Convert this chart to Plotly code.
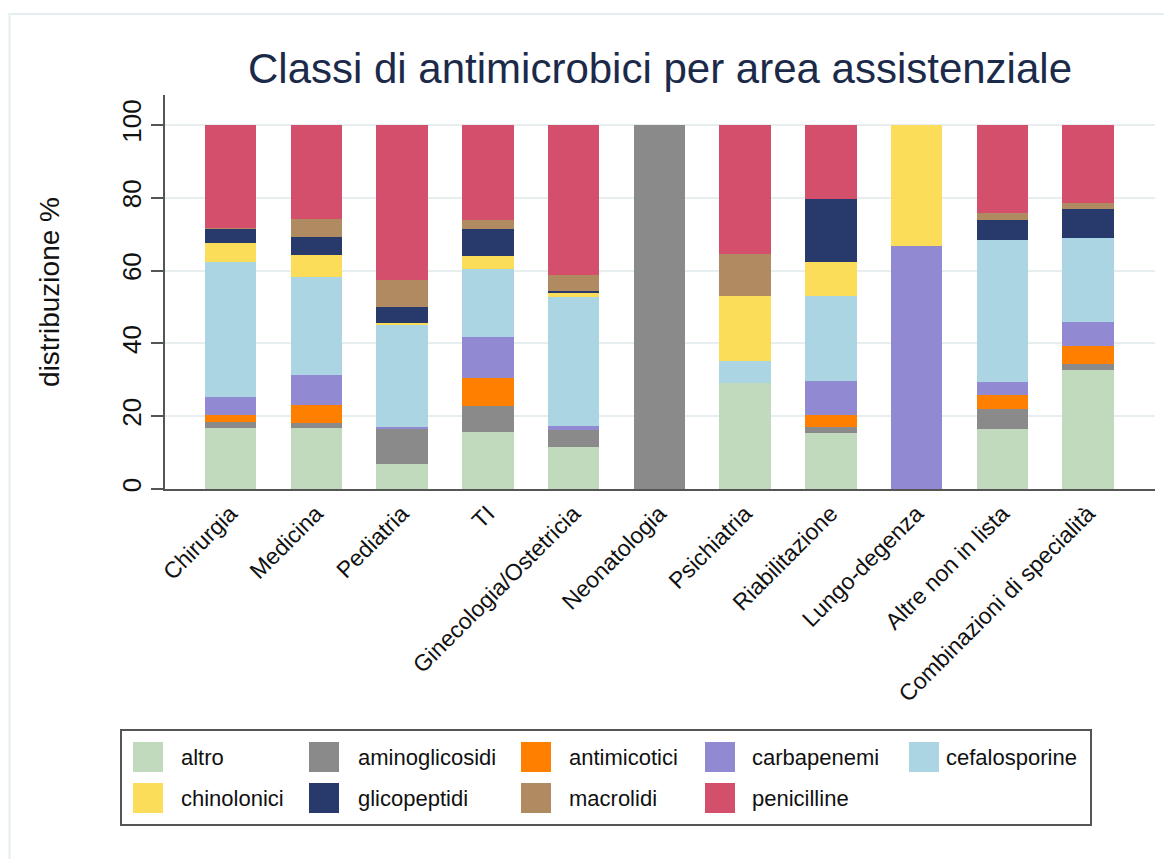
import plotly.graph_objects as go

# ---------------- data ----------------
categories = ["Chirurgia", "Medicina", "Pediatria", "TI", "Ginecologia/Ostetricia",
              "Neonatologia", "Psichiatria", "Riabilitazione", "Lungo-degenza",
              "Altre non in lista", "Combinazioni di specialità"]

series_names = ["altro", "aminoglicosidi", "antimicotici", "carbapenemi", "cefalosporine",
                "chinolonici", "glicopeptidi", "macrolidi", "penicilline"]

altro          = [16.7, 16.7, 7.0, 15.6, 11.5, 0, 29.1, 15.4, 0, 16.5, 32.7]
aminoglicosidi = [1.7, 1.3, 9.7, 7.1, 4.6, 100, 0, 1.6, 0, 5.5, 1.5]
antimicotici   = [2.0, 5.2, 0, 7.9, 0, 0, 0, 3.2, 0, 3.7, 5.0]
carbapenemi    = [5.0, 8.1, 0.3, 11.2, 1.3, 0, 0, 9.4, 66.7, 3.8, 6.6]
cefalosporine  = [37.0, 26.9, 28.1, 18.5, 35.3, 0, 6.0, 23.5, 0, 38.9, 23.0]
chinolonici    = [5.1, 6.1, 0.5, 3.7, 1.3, 0, 17.8, 9.3, 33.3, 0, 0]
glicopeptidi   = [3.9, 5.0, 4.3, 7.3, 0.3, 0, 0, 17.2, 0, 5.5, 8.1]
macrolidi      = [0.3, 4.8, 7.6, 2.5, 4.6, 0, 11.7, 0, 0, 2.0, 1.7]
penicilline    = [28.3, 25.9, 42.5, 26.2, 41.1, 0, 35.4, 20.4, 0, 24.1, 21.4]

series_values = [altro, aminoglicosidi, antimicotici, carbapenemi, cefalosporine,
                 chinolonici, glicopeptidi, macrolidi, penicilline]

colors = ["#c1d9bc", "#8a8a8a", "#ff7f00", "#9189d1", "#abd5e2",
          "#fcdd5a", "#283a6b", "#b08a60", "#d44f6c"]

y_ticks = [0, 20, 40, 60, 80, 100]

# ---------------- figure ----------------
FONT = "Liberation Sans, Arial, sans-serif"
OFF = 8                      # page body margin
W, H = 1164, 851
L, T = 165 - OFF, 95 - OFF
R = W - (1155 - OFF)
B = H - (489 - OFF)
PW, PH = W - L - R, H - T - B


def px_x(px):
    """page pixel x -> paper coordinate"""
    return (px - OFF - L) / PW


def px_y(py):
    """page pixel y -> paper coordinate"""
    return (H - B - (py - OFF)) / PH


fig = go.Figure()
for name, vals, col in zip(series_names, series_values, colors):
    fig.add_trace(go.Bar(
        x=categories, y=vals, name=name,
        marker=dict(color=col, line=dict(width=0)),
        showlegend=False,
        hovertemplate="%{x}<br>" + name + ": %{y}<extra></extra>",
    ))

# manual legend (large swatches like the original)
swatch_left = [133, 309, 521, 705, 909]
text_left = [179, 356, 567, 750, 944]
row_center = [757, 798]
shapes = []
annotations = []
for i, (name, col) in enumerate(zip(series_names, colors)):
    r, c = divmod(i, 5)
    cy = row_center[r]
    shapes.append(dict(type="rect", xref="paper", yref="paper",
                       x0=px_x(swatch_left[c]), x1=px_x(swatch_left[c] + 30),
                       y0=px_y(cy + 15), y1=px_y(cy - 15),
                       fillcolor=col, line=dict(width=0)))
    annotations.append(dict(xref="paper", yref="paper", x=px_x(text_left[c]), y=px_y(cy),
                            text=name, showarrow=False, xanchor="left", yanchor="middle",
                            font=dict(family=FONT, size=22, color="#111111")))
# legend frame
shapes.append(dict(type="rect", xref="paper", yref="paper",
                   x0=px_x(121), x1=px_x(1091), y0=px_y(825), y1=px_y(730),
                   line=dict(color="#555555", width=2), fillcolor="rgba(0,0,0,0)"))
# outer faint frame of the graph region
shapes.append(dict(type="rect", xref="paper", yref="paper",
                   x0=px_x(9.5), x1=px_x(1185), y0=px_y(880), y1=px_y(14),
                   line=dict(color="#e4edef", width=2), fillcolor="rgba(0,0,0,0)",
                   layer="below"))

fig.update_layout(
    width=W, height=H,
    margin=dict(l=L, r=R, t=T, b=B, autoexpand=False),
    barmode="stack",
    bargap=0.40,
    paper_bgcolor="white",
    plot_bgcolor="white",
    font=dict(family=FONT, color="#111111"),
    title=dict(text="Classi di antimicrobici per area assistenziale",
               x=0.5, xref="paper", xanchor="center",
               y=1 - (68 - OFF) / H, yref="container", yanchor="middle",
               font=dict(family=FONT, size=42, color="#1c2a4a")),
    xaxis=dict(
        type="category",
        range=[-0.764, 10.78],
        tickangle=-45,
        tickfont=dict(family=FONT, size=23, color="#111111"),
        showline=True, linecolor="#555555", linewidth=2,
        ticks="", showgrid=False, zeroline=False,
        fixedrange=True,
    ),
    yaxis=dict(
        range=[0, 108.2],
        tickvals=y_ticks,
        ticktext=[str(v) for v in y_ticks],
        tickangle=-90,
        tickfont=dict(family=FONT, size=26, color="#111111"),
        ticks="outside", ticklen=12, tickwidth=2, tickcolor="#555555",
        showline=True, linecolor="#555555", linewidth=2,
        showgrid=True, gridcolor="#e6eef0", gridwidth=2,
        zeroline=False,
        title=dict(text="distribuzione %", standoff=49,
                   font=dict(family=FONT, size=28, color="#111111")),
        fixedrange=True,
    ),
    shapes=shapes,
    annotations=annotations,
)

fig.write_html("out.html")
